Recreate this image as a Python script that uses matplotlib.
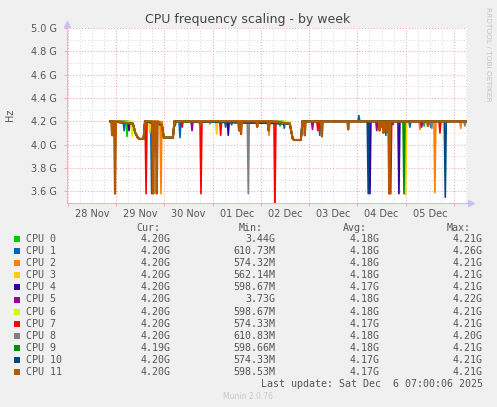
import numpy as np
import matplotlib.pyplot as plt
from matplotlib.patches import Rectangle

# x values are days since 28 Nov 00:00, y values in GHz
day_labels = ['28 Nov', '29 Nov', '30 Nov', '01 Dec', '02 Dec', '03 Dec', '04 Dec', '05 Dec']
y_ticks = [3.6, 3.8, 4.0, 4.2, 4.4, 4.6, 4.8, 5.0]

cpu_names = ['CPU 0', 'CPU 1', 'CPU 2', 'CPU 3', 'CPU 4', 'CPU 5',
             'CPU 6', 'CPU 7', 'CPU 8', 'CPU 9', 'CPU 10', 'CPU 11']
cpu_colors = ['#00CC00', '#0066B3', '#FF8000', '#FFCC00', '#330099', '#990099',
              '#CCFF00', '#FF0000', '#808080', '#008F00', '#00487D', '#B35A00']
cur_vals = ['4.20G', '4.20G', '4.20G', '4.20G', '4.20G', '4.20G',
            '4.20G', '4.20G', '4.20G', '4.19G', '4.20G', '4.20G']
min_vals = ['3.44G', '610.73M', '574.32M', '562.14M', '598.67M', '3.73G',
            '598.67M', '574.33M', '610.83M', '598.66M', '574.33M', '598.53M']
avg_vals = ['4.18G', '4.18G', '4.18G', '4.18G', '4.17G', '4.18G',
            '4.18G', '4.17G', '4.18G', '4.18G', '4.17G', '4.17G']
max_vals = ['4.21G', '4.26G', '4.21G', '4.21G', '4.21G', '4.22G',
            '4.21G', '4.21G', '4.20G', '4.21G', '4.21G', '4.21G']

t_start = 0.876
t_end = 8.25
base_freq = 4.2

# throttling episodes seen on every core
plateau_t = [1.35, 1.40, 1.45, 1.48, 1.57, 1.60,
             1.95, 1.99, 2.18, 2.21,
             4.60, 4.66, 4.69, 4.83, 4.86]
plateau_v = [4.18, 4.10, 4.06, 4.05, 4.05, 4.20,
             4.17, 4.06, 4.06, 4.20,
             4.18, 4.05, 4.04, 4.04, 4.20]

# single-sample dips per core: (day, GHz)
cpu_dips = [
    [(1.228, 4.07), (2.945, 4.18), (4.397, 4.16), (7.38, 4.16)],
    [(1.168, 4.12), (1.739, 3.58), (2.325, 4.06), (3.27, 4.15), (3.395, 4.17),
     (4.485, 4.14), (5.22, 4.08), (6.03, 4.25), (6.59, 4.08), (6.735, 4.17),
     (7.087, 4.15), (7.52, 4.15)],
    [(1.80, 4.12), (1.932, 3.58), (4.168, 4.08), (7.295, 4.13), (7.605, 3.59),
     (8.14, 4.14)],
    [(1.70, 4.10), (3.085, 4.09), (7.00, 3.57)],
    [(1.27, 4.12), (3.325, 4.08), (6.26, 3.58), (6.86, 3.58)],
    [(2.575, 4.12), (5.07, 4.13), (6.40, 4.12), (7.33, 4.15)],
    [(1.33, 4.07), (4.58, 4.17)],
    [(1.623, 3.58), (2.37, 4.15), (2.76, 3.58), (3.168, 4.08), (4.292, 3.45),
     (5.18, 4.12), (6.69, 3.58), (7.71, 4.10)],
    [(3.74, 3.58), (7.54, 4.14), (8.225, 4.16)],
    [(2.225, 4.16), (6.965, 3.58)],
    [(6.224, 3.58), (7.82, 3.55)],
    [(0.92, 4.08), (0.98, 3.58), (1.772, 3.58), (1.843, 3.58), (2.74, 4.17),
     (3.55, 4.12), (3.59, 4.09), (3.925, 4.15), (4.16, 4.12), (4.91, 4.08),
     (5.265, 4.07), (5.81, 4.13), (6.46, 4.12), (6.50, 4.15), (6.54, 4.10),
     (6.58, 4.14), (6.62, 4.11), (6.66, 3.58), (7.46, 4.16)],
]


def build_series(dips):
    pts = [(t_start, base_freq), (t_end, base_freq)]
    pts += list(zip(plateau_t, plateau_v))
    for t, v in dips:
        pts += [(t - 0.02, base_freq), (t, v), (t + 0.02, base_freq)]
    pts.sort(key=lambda p: p[0])
    return np.array([p[0] for p in pts]), np.array([p[1] for p in pts])


W, H = 497, 407
fig = plt.figure(figsize=(W / 100, H / 100), dpi=100, facecolor='#F0F0F0')
ax = fig.add_axes([67 / W, 1 - 203 / H, 400 / W, 175 / H])
ax.set_facecolor('white')
ax.set_xlim(-0.015, 8.27)
ax.set_ylim(3.5, 5.0)

major_c = '#F2A0A0'
minor_c = '#D6D6D6'
for d in np.arange(0, 8.3, 0.25):
    if abs(d - round(d)) < 1e-6:
        ax.axvline(d, color=major_c, lw=0.7, ls=(0, (1, 2)), zorder=1)
    else:
        ax.axvline(d, color=minor_c, lw=0.7, ls=(0, (1, 2)), zorder=1)
for y in np.arange(3.7, 5.0, 0.2):
    ax.axhline(y, color=minor_c, lw=0.7, ls=(0, (1, 2)), zorder=1)
for y in y_ticks:
    ax.axhline(y, color=major_c, lw=0.7, ls=(0, (1, 2)), zorder=1)

for i in range(len(cpu_names)):
    t, v = build_series(cpu_dips[i])
    lw = 1.6 if i == len(cpu_names) - 1 else 1.2
    ax.plot(t, v, color=cpu_colors[i], lw=lw, zorder=2 + i)

for s in ['top', 'right']:
    ax.spines[s].set_visible(False)
for s in ['left', 'bottom']:
    ax.spines[s].set_color('#C4C4F0')
    ax.spines[s].set_linewidth(0.8)
ax.plot([0], [1.025], marker='^', ms=4, color='#C4C4F0', transform=ax.transAxes, clip_on=False)
ax.plot([1.01], [0], marker='>', ms=4, color='#C4C4F0', transform=ax.transAxes, clip_on=False)

ax.set_yticks(y_ticks)
ax.set_yticklabels(['%.1f G' % y for y in y_ticks])
ax.tick_params(axis='y', length=2, width=0.7, color=major_c, labelsize=7,
               labelcolor='#555555', pad=5)
ax.set_xticks(np.arange(0, 9))
ax.set_xticklabels([''] * 9)
ax.set_xticks(np.arange(0.5, 8, 1), minor=True)
ax.set_xticklabels(day_labels, minor=True)
ax.tick_params(axis='x', which='major', length=2, width=0.7, color=major_c)
ax.tick_params(axis='x', which='minor', length=0, labelsize=7,
               labelcolor='#555555', pad=4)

fig.text(248 / W, 1 - 20 / H, 'CPU frequency scaling - by week', ha='center',
         va='center', fontsize=9, color='#444444')
fig.text(10 / W, 1 - 115 / H, 'Hz', rotation=90, ha='center', va='center',
         fontsize=7, color='#555555')
fig.text(488 / W, 1 - 54 / H, 'RRDTOOL / TOBI OETIKER', rotation=270,
         ha='center', va='center', fontsize=5.3, color='#C4C4C4')

mono = dict(family='DejaVu Sans Mono', fontsize=7.2, color='#555555', va='center')
head_y = 227.7
for lbl, x in [('Cur:', 136), ('Min:', 239), ('Avg:', 343), ('Max:', 446.7)]:
    fig.text(x / W, 1 - head_y / H, lbl, ha='left', **mono)
for i in range(len(cpu_names)):
    y = 239.3 + 12.04 * i
    fig.add_artist(Rectangle((14 / W, 1 - (y + 3) / H), 6 / W, 6 / H,
                             transform=fig.transFigure, color=cpu_colors[i], lw=0))
    fig.text(26.3 / W, 1 - y / H, cpu_names[i], ha='left', **mono)
    fig.text(171 / W, 1 - y / H, cur_vals[i], ha='right', **mono)
    fig.text(275.3 / W, 1 - y / H, min_vals[i], ha='right', **mono)
    fig.text(379.3 / W, 1 - y / H, avg_vals[i], ha='right', **mono)
    fig.text(482.7 / W, 1 - y / H, max_vals[i], ha='right', **mono)
fig.text(482.7 / W, 1 - 383.7 / H, 'Last update: Sat Dec  6 07:00:06 2025',
         ha='right', **mono)
fig.text(248 / W, 1 - 396.3 / H, 'Munin 2.0.76', ha='center', va='center',
         fontsize=5.5, color='#C8C8C8')

fig.savefig('out.png', dpi=100, facecolor=fig.get_facecolor())
